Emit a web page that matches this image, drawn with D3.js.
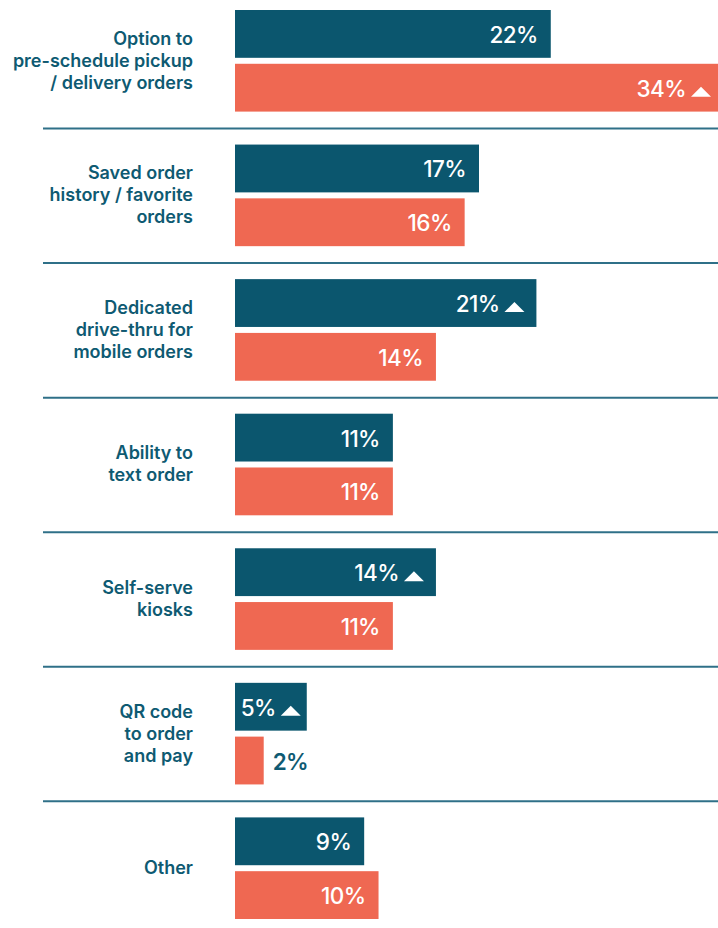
<!DOCTYPE html>
<html>
<head>
<meta charset="utf-8">
<script src="https://cdn.jsdelivr.net/npm/d3@7"></script>
<style>
  html, body { margin: 0; padding: 0; background: #fff; }
  svg { display: block; }
</style>
</head>
<body>
<svg id="chart" width="718" height="928"></svg>
<script>
const categories = [
  "Option to pre-schedule pickup / delivery orders",
  "Saved order history / favorite orders",
  "Dedicated drive-thru for mobile orders",
  "Ability to text order",
  "Self-serve kiosks",
  "QR code to order and pay",
  "Other"
];
const labelLines = [
  ["Option to", "pre-schedule pickup", "/ delivery orders"],
  ["Saved order", "history / favorite", "orders"],
  ["Dedicated", "drive-thru for", "mobile orders"],
  ["Ability to", "text order"],
  ["Self-serve", "kiosks"],
  ["QR code", "to order", "and pay"],
  ["Other"]
];
const seriesA = [22, 17, 21, 11, 14, 5, 9];
const seriesB = [34, 16, 14, 11, 11, 2, 10];
const arrowA = [false, false, true, false, true, true, false];
const arrowB = [true, false, false, false, false, false, false];

const colA = "#0b566e";
const colB = "#ef6852";
const textCol = "#0e5a72";
const FONT = "Inter, 'Noto Sans', sans-serif";

const svg = d3.select("#chart");
const x = d3.scaleLinear().domain([0, 34]).range([235, 723]);
const y = d3.scaleBand().domain(categories).range([10, 919]).paddingInner(0.245).paddingOuter(0);
const ySub = d3.scaleBand().domain(["A", "B"]).range([0, y.bandwidth()]).paddingInner(0.111);

const rows = categories.map((c, i) => ({
  cat: c, lines: labelLines[i],
  bars: [
    {key: "A", v: seriesA[i], arrow: arrowA[i], color: colA},
    {key: "B", v: seriesB[i], arrow: arrowB[i], color: colB}
  ]
}));

// separators
svg.append("g").selectAll("line")
  .data(categories.slice(0, -1))
  .join("line")
  .attr("x1", 43).attr("x2", 718)
  .attr("y1", d => y(d) + 118.5).attr("y2", d => y(d) + 118.5)
  .attr("stroke", "#2f7088").attr("stroke-width", 2);

const g = svg.append("g").selectAll("g.row")
  .data(rows).join("g").attr("class", "row")
  .attr("transform", d => `translate(0,${y(d.cat)})`);

// category labels
g.each(function(d) {
  const n = d.lines.length;
  const cy = y.bandwidth() / 2;
  d3.select(this).append("text")
    .attr("text-anchor", "end")
    .attr("font-family", FONT)
    .attr("font-weight", 600)
    .attr("font-size", 18)
    .attr("fill", textCol)
    .selectAll("tspan").data(d.lines).join("tspan")
    .attr("x", 193)
    .attr("y", (t, i) => cy + (i - (n - 1) / 2) * 22 + 6)
    .text(t => t);
});

// bars
const bar = g.selectAll("g.bar").data(d => d.bars).join("g").attr("class", "bar")
  .attr("transform", d => `translate(0,${ySub(d.key)})`);

bar.append("rect")
  .attr("x", x(0))
  .attr("y", 0)
  .attr("width", d => x(d.v) - x(0))
  .attr("height", ySub.bandwidth())
  .attr("fill", d => d.color);

const h = ySub.bandwidth();
bar.each(function(d) {
  const sel = d3.select(this);
  const end = x(d.v);
  const inside = (end - x(0)) > 45;
  const baseY = h / 2 + 9;
  if (!inside) {
    sel.append("text")
      .attr("x", end + 9).attr("y", baseY)
      .attr("font-family", FONT)
      .attr("font-weight", 600).attr("font-size", 22.5)
      .attr("letter-spacing", -0.6)
      .attr("fill", textCol)
      .text(d.v + "%");
    return;
  }
  let textEnd;
  if (d.arrow) {
    const pad = d.v < 8 ? 6 : 12;
    const aR = end - pad, aL = aR - 20;
    sel.append("path")
      .attr("d", `M${aL},${baseY} L${aR},${baseY} L${(aL + aR) / 2},${baseY - 10} Z`)
      .attr("fill", "#fff");
    textEnd = aL - 5;
  } else {
    textEnd = end - 13;
  }
  sel.append("text")
    .attr("x", textEnd).attr("y", baseY)
    .attr("text-anchor", "end")
    .attr("font-family", FONT)
    .attr("font-weight", 500).attr("font-size", 22.5)
    .attr("letter-spacing", -0.6)
    .attr("fill", "#fff")
    .text(d.v + "%");
});
</script>
</body>
</html>
